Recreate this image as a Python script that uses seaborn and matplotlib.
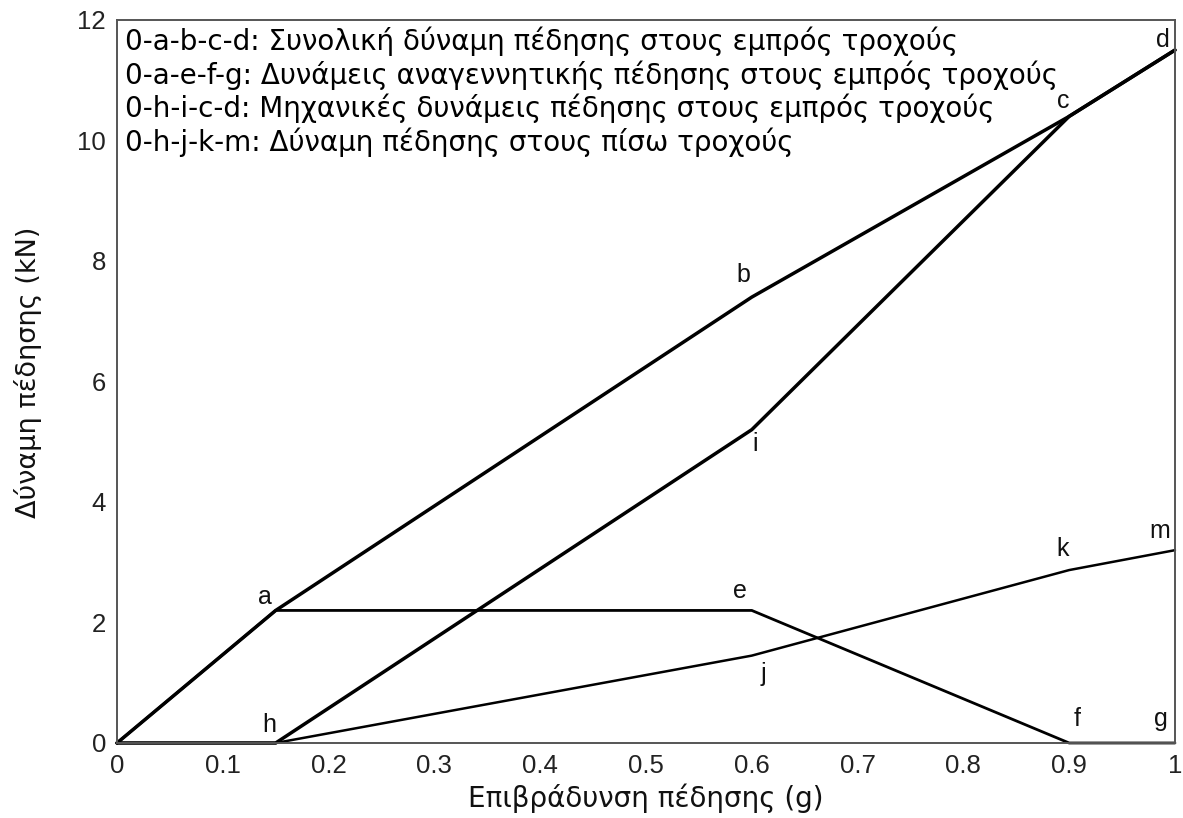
import matplotlib
matplotlib.use("Agg")
import matplotlib.pyplot as plt
import seaborn as sns
import pandas as pd

# Braking curve break points (deceleration in g, force in kN)
total_x = [0.0, 0.15, 0.60, 0.90, 1.00]
total_y = [0.0, 2.2, 7.4, 10.4, 11.5]
total_pts = ["0", "a", "b", "c", "d"]

regen_x = [0.0, 0.15, 0.60, 0.90, 1.00]
regen_y = [0.0, 2.2, 2.2, 0.0, 0.0]
regen_pts = ["0", "a", "e", "f", "g"]

mech_x = [0.0, 0.15, 0.60, 0.90, 1.00]
mech_y = [0.0, 0.0, 5.2, 10.4, 11.5]
mech_pts = ["0", "h", "i", "c", "d"]

rear_x = [0.0, 0.15, 0.60, 0.90, 1.00]
rear_y = [0.0, 0.0, 1.45, 2.87, 3.2]
rear_pts = ["0", "h", "j", "k", "m"]

legend_lines = [
    "0-a-b-c-d: Συνολική δύναμη πέδησης στους εμπρός τροχούς",
    "0-a-e-f-g: Δυνάμεις αναγεννητικής πέδησης στους εμπρός τροχούς",
    "0-h-i-c-d: Μηχανικές δυνάμεις πέδησης στους εμπρός τροχούς",
    "0-h-j-k-m: Δύναμη πέδησης στους πίσω τροχούς",
]

x_ticks = [0, 0.1, 0.2, 0.3, 0.4, 0.5, 0.6, 0.7, 0.8, 0.9, 1.0]
x_ticklabels = ["0", "0.1", "0.2", "0.3", "0.4", "0.5", "0.6", "0.7", "0.8", "0.9", "1"]
y_ticks = [0, 2, 4, 6, 8, 10, 12]

sns.set_theme(style="white")
plt.rcParams["font.family"] = ["Liberation Sans", "DejaVu Sans"]

frames = []
for name, xs, ys in [("total", total_x, total_y), ("regen", regen_x, regen_y),
                     ("mech", mech_x, mech_y), ("rear", rear_x, rear_y)]:
    frames.append(pd.DataFrame({"x": xs, "y": ys, "curve": name}))
df = pd.concat(frames, ignore_index=True)

fig = plt.figure(figsize=(11.83, 8.18), dpi=100)
ax = fig.add_axes([0.0989, 0.0917, 0.8943, 0.8839])

widths = {"total": 2.5, "regen": 2.0, "mech": 2.5, "rear": 1.8}
for name, sub in df.groupby("curve", sort=False):
    sns.lineplot(data=sub, x="x", y="y", sort=False, color="black",
                 linewidth=widths[name], ax=ax, legend=False,
                 solid_joinstyle="miter", clip_on=False)

# Point letters placed next to their break points
label_offsets = {
    "a": (-8, 10), "b": (-6, 16), "c": (-4, 11), "d": (-9, 7),
    "e": (-8.5, 14), "f": (5.5, 17), "g": (-10, 17), "h": (-4.5, 13),
    "i": (2.5, -10), "j": (8, -13), "k": (-4.5, 15), "m": (-11, 14),
}
seen = set()
for xs, ys, pts in [(total_x, total_y, total_pts), (regen_x, regen_y, regen_pts),
                    (mech_x, mech_y, mech_pts), (rear_x, rear_y, rear_pts)]:
    for xv, yv, p in zip(xs, ys, pts):
        if p == "0" or p in seen:
            continue
        seen.add(p)
        dx, dy = label_offsets[p]
        ax.annotate(p, (xv, yv), xytext=(dx, dy), textcoords="offset points",
                    ha="center", va="center", fontsize=18, color="#111111")

# Key to the curves, one line per path
key_baselines = [0.9585, 0.9115, 0.8658, 0.8188]
for line, yb in zip(legend_lines, key_baselines):
    ax.text(0.0076, yb, line, transform=ax.transAxes, ha="left", va="baseline",
            fontsize=20, color="black", family=["DejaVu Sans"])

ax.set_xlim(0, 1)
ax.set_ylim(0, 12)
ax.set_xticks(x_ticks)
ax.set_xticklabels(x_ticklabels)
ax.set_yticks(y_ticks)
ax.tick_params(direction="in", length=7, width=1.2, color="#444444",
               labelsize=18.5, labelcolor="#222222")
ax.tick_params(axis="x", pad=8)
ax.tick_params(axis="y", pad=8)
for s in ax.spines.values():
    s.set_color("#555555")
    s.set_linewidth(1.4)
ax.set_xlabel("Επιβράδυνση πέδησης (g)", fontsize=20, color="#111111",
              labelpad=4, family=["DejaVu Sans"])
ax.set_ylabel("Δύναμη πέδησης (kN)", fontsize=19.5, color="#111111",
              family=["DejaVu Sans"])
ax.yaxis.set_label_coords(-0.071, 0.512)

fig.savefig("out.png", dpi=100, facecolor="white")
